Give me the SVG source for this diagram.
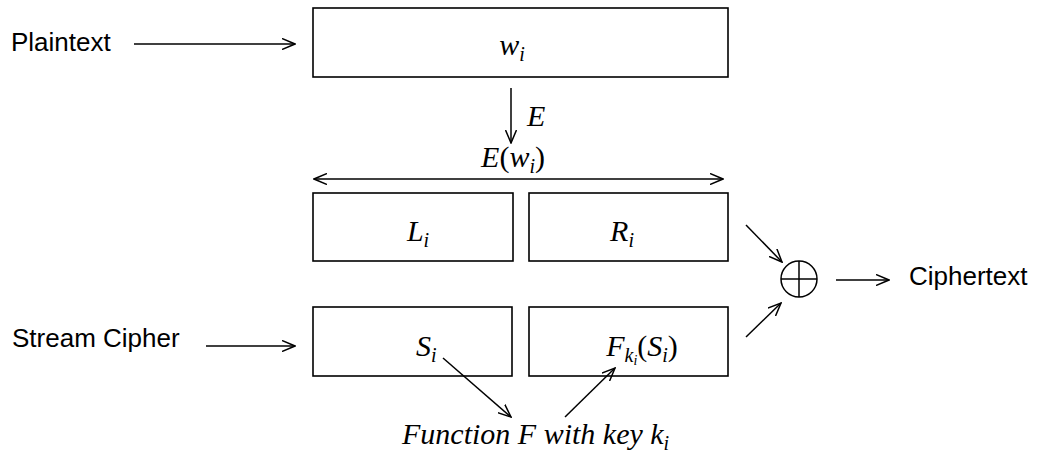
<svg xmlns="http://www.w3.org/2000/svg" width="1037" height="462" viewBox="0 0 1037 462">
<style>
.box{fill:#fff;stroke:#000;stroke-width:1.6}
.ln{fill:none;stroke:#000;stroke-width:1.5}
.sans{font-family:"Liberation Sans",Arial,sans-serif;font-size:26px;fill:#000}
.m{font-family:"Liberation Serif","Times New Roman",serif;font-style:italic;font-size:30px;fill:#000}
.up{font-style:normal}
.sub{font-size:20px}
</style>
<defs>
<marker id="ah" viewBox="0 0 14 12" refX="13" refY="6" markerWidth="14" markerHeight="12" markerUnits="userSpaceOnUse" orient="auto-start-reverse">
<path d="M0,0.5 L13,6 L0,11.5" fill="none" stroke="#000" stroke-width="1.5"/>
</marker>
</defs>
<rect width="1037" height="462" fill="#fff"/>
<g id="plaintext-label"><text class="sans" x="11" y="51">Plaintext</text></g>
<g id="stream-label"><text class="sans" x="12" y="347">Stream Cipher</text></g>
<g id="cipher-label"><text class="sans" x="909" y="285">Ciphertext</text></g>
<g id="w"><rect class="box" x="313" y="8" width="415" height="69"/><text class="m" x="512" y="55" text-anchor="middle">w<tspan class="sub" dy="6">i</tspan></text></g>
<g id="L"><rect class="box" x="313" y="193" width="200" height="68"/><text class="m" x="418" y="241" text-anchor="middle">L<tspan class="sub" dy="6">i</tspan></text></g>
<g id="R"><rect class="box" x="529" y="193" width="199" height="68"/><text class="m" x="622" y="241" text-anchor="middle">R<tspan class="sub" dy="6">i</tspan></text></g>
<g id="S"><rect class="box" x="313" y="307" width="199" height="69"/><text class="m" x="416" y="356">S<tspan class="sub" dy="6">i</tspan></text></g>
<g id="F"><rect class="box" x="529" y="307" width="199" height="69"/><text class="m" x="642" y="356" text-anchor="middle">F<tspan class="sub" dy="6">k</tspan><tspan font-size="14" dy="3">i</tspan><tspan dy="-9" class="up">(</tspan>S<tspan class="sub" dy="6">i</tspan><tspan dy="-6" class="up">)</tspan></text></g>
<g id="xor"><circle class="ln" cx="799" cy="279" r="18"/><line class="ln" x1="781" y1="279" x2="817" y2="279"/><line class="ln" x1="799" y1="261" x2="799" y2="297"/></g>
<g id="labels">
<text class="m" x="527" y="126">E</text>
<text class="m" x="513" y="167" text-anchor="middle">E<tspan class="up">(</tspan>w<tspan class="sub" dy="6">i</tspan><tspan dy="-6" class="up">)</tspan></text>
<text class="m" x="402" y="444">Function F with key k<tspan class="sub" dy="6">i</tspan></text>
</g>
<g id="connectors">
<line class="ln" x1="134" y1="44" x2="295" y2="44" marker-end="url(#ah)"/>
<line class="ln" x1="206" y1="346" x2="295" y2="346" marker-end="url(#ah)"/>
<line class="ln" x1="511" y1="88" x2="511" y2="143" marker-end="url(#ah)"/>
<line class="ln" x1="314" y1="179" x2="723" y2="179" marker-start="url(#ah)" marker-end="url(#ah)"/>
<line class="ln" x1="443" y1="358" x2="511" y2="417" marker-end="url(#ah)"/>
<line class="ln" x1="565" y1="417" x2="615" y2="368" marker-end="url(#ah)"/>
<line class="ln" x1="746" y1="225" x2="782" y2="262" marker-end="url(#ah)"/>
<line class="ln" x1="746" y1="337" x2="781" y2="303" marker-end="url(#ah)"/>
<line class="ln" x1="836" y1="280" x2="889" y2="280" marker-end="url(#ah)"/>
</g>
</svg>
